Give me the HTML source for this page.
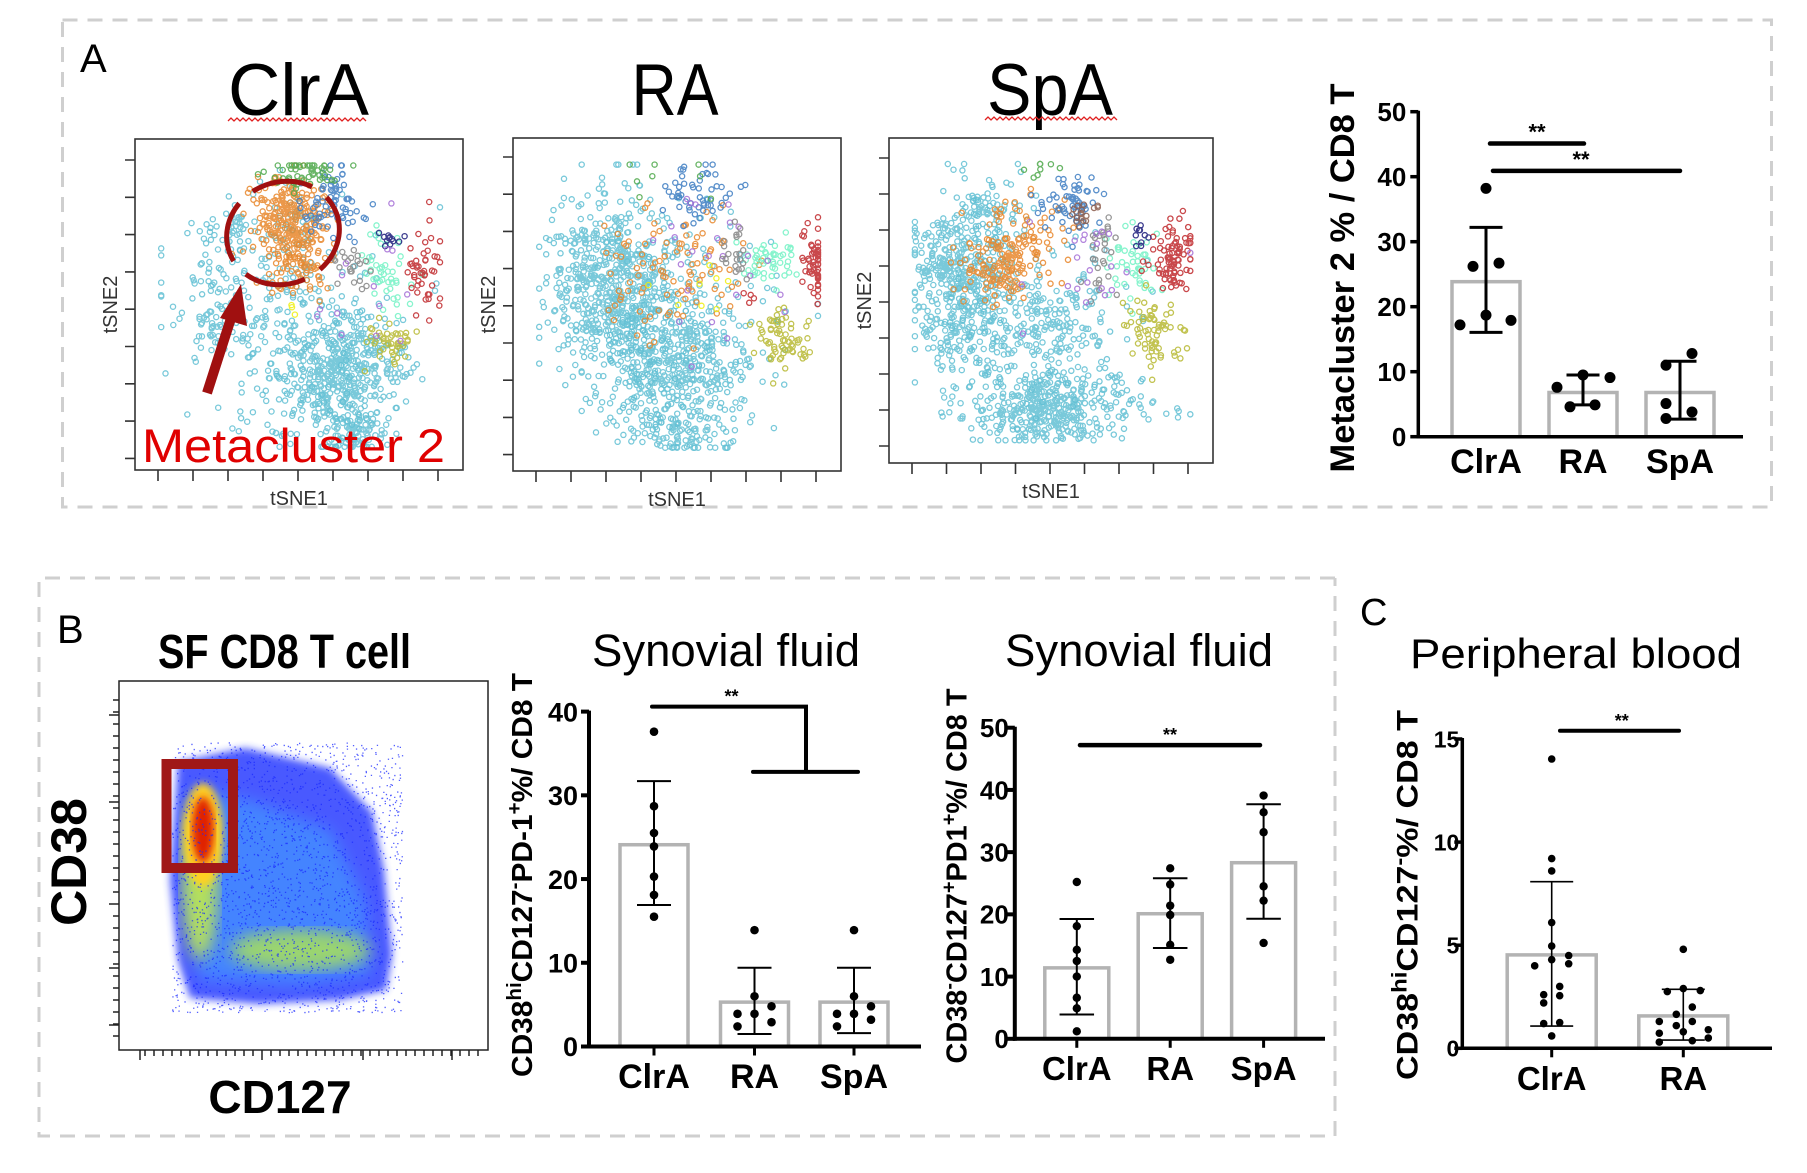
<!DOCTYPE html>
<html><head><meta charset="utf-8">
<style>
html,body{margin:0;padding:0;background:#fff;}
svg{display:block;font-family:"Liberation Sans",Arial,sans-serif;}
</style></head>
<body>
<svg id="fig" width="1807" height="1173" viewBox="0 0 1807 1173" xmlns="http://www.w3.org/2000/svg">
  <defs>
    <filter id="blur3"><feGaussianBlur stdDeviation="4"/></filter>
    <filter id="blur6"><feGaussianBlur stdDeviation="8"/></filter>
  </defs>
  <rect x="62.5" y="20" width="1709" height="487" fill="none" stroke="#cfcfcf" stroke-width="3" stroke-dasharray="15 10"/>
  <path d="M1335 578 L39 578 L39 1136 L1335 1136 L1335 578" fill="none" stroke="#cfcfcf" stroke-width="3" stroke-dasharray="15 10"/>

  <text x="80" y="72" font-size="40">A</text>
  <text x="57" y="643" font-size="40">B</text>
  <text x="1360" y="625" font-size="38">C</text>

  <text x="298.5" y="115" font-size="73" text-anchor="middle" textLength="141" lengthAdjust="spacingAndGlyphs">ClrA</text>
  <text x="675" y="115" font-size="73" text-anchor="middle" textLength="87" lengthAdjust="spacingAndGlyphs">RA</text>
  <text x="1050" y="115" font-size="73" text-anchor="middle" textLength="126" lengthAdjust="spacingAndGlyphs">SpA</text>
  <path d="M228 121 l3 -3 l3 3 l3 -3 l3 3 l3 -3 l3 3 l3 -3 l3 3 l3 -3 l3 3 l3 -3 l3 3 l3 -3 l3 3 l3 -3 l3 3 l3 -3 l3 3 l3 -3 l3 3 l3 -3 l3 3 l3 -3 l3 3 l3 -3 l3 3 l3 -3 l3 3 l3 -3 l3 3 l3 -3 l3 3 l3 -3 l3 3 l3 -3 l3 3 l3 -3 l3 3 l3 -3 l3 3 l3 -3 l3 3 l3 -3 l3 3 l3 -3 l3 3" fill="none" stroke="#e02020" stroke-width="1.3"/>
  <path d="M985 120 l3 -3 l3 3 l3 -3 l3 3 l3 -3 l3 3 l3 -3 l3 3 l3 -3 l3 3 l3 -3 l3 3 l3 -3 l3 3 l3 -3 l3 3 l3 -3 l3 3 l3 -3 l3 3 l3 -3 l3 3 l3 -3 l3 3 l3 -3 l3 3 l3 -3 l3 3 l3 -3 l3 3 l3 -3 l3 3 l3 -3 l3 3 l3 -3 l3 3 l3 -3 l3 3 l3 -3 l3 3 l3 -3 l3 3 l3 -3 l3 3" fill="none" stroke="#e02020" stroke-width="1.3"/>

  <g id="tsne-layer"></g>

  <ellipse cx="283" cy="233" rx="57" ry="51" fill="none" stroke="#a01010" stroke-width="5" stroke-dasharray="62 18" transform="rotate(-20 283 233)"/>
  <line x1="207" y1="393" x2="233" y2="312" stroke="#a01010" stroke-width="10"/>
  <polygon points="241,284 220,318 247,326" fill="#a01010"/>
  <text x="142" y="462" font-size="47" fill="#e00000" textLength="303" lengthAdjust="spacingAndGlyphs">Metacluster 2</text>

  <text x="284.5" y="668" font-size="48" font-weight="bold" text-anchor="middle" textLength="253" lengthAdjust="spacingAndGlyphs">SF CD8 T cell</text>
  <g id="flow-layer"></g>
  <rect x="119" y="681" width="369" height="369" fill="none" stroke="#222" stroke-width="1.5"/>
  <rect x="166.5" y="764" width="66.5" height="104" fill="none" stroke="#a01818" stroke-width="10"/>
  <text transform="translate(86 862) rotate(-90)" font-size="50" font-weight="bold" text-anchor="middle">CD38</text>
  <text x="280" y="1113" font-size="46" font-weight="bold" text-anchor="middle">CD127</text>

  <text x="726" y="666" font-size="45" text-anchor="middle" textLength="268" lengthAdjust="spacingAndGlyphs">Synovial fluid</text>
  <text x="1139" y="666" font-size="45" text-anchor="middle" textLength="268" lengthAdjust="spacingAndGlyphs">Synovial fluid</text>
  <text x="1576" y="668" font-size="42" text-anchor="middle" textLength="332" lengthAdjust="spacingAndGlyphs">Peripheral blood</text>

  <text transform="translate(1342 278) rotate(-90)" y="12" font-size="34.5" font-weight="bold" text-anchor="middle" textLength="389" lengthAdjust="spacingAndGlyphs">Metacluster 2 % / CD8 T</text>
  <text transform="translate(521 875) rotate(-90)" y="11" font-size="29" font-weight="bold" text-anchor="middle" textLength="404" lengthAdjust="spacingAndGlyphs">CD38<tspan font-size="20" dy="-11">hi</tspan><tspan dy="11">CD127</tspan><tspan font-size="20" dy="-11">-</tspan><tspan dy="11">PD-1</tspan><tspan font-size="20" dy="-11">+</tspan><tspan dy="11">%/ CD8 T</tspan></text>
  <text transform="translate(955.5 876) rotate(-90)" y="11" font-size="29" font-weight="bold" text-anchor="middle" textLength="375" lengthAdjust="spacingAndGlyphs">CD38<tspan font-size="20" dy="-11">-</tspan><tspan dy="11">CD127</tspan><tspan font-size="20" dy="-11">+</tspan><tspan dy="11">PD1</tspan><tspan font-size="20" dy="-11">+</tspan><tspan dy="11">%/ CD8 T</tspan></text>
  <text transform="translate(1406.7 895) rotate(-90)" y="11" font-size="30" font-weight="bold" text-anchor="middle" textLength="370" lengthAdjust="spacingAndGlyphs">CD38<tspan font-size="21" dy="-11">hi</tspan><tspan dy="11">CD127</tspan><tspan font-size="21" dy="-11">-</tspan><tspan dy="11">%/ CD8 T</tspan></text>

  <g id="charts"></g>
</svg>

<script>
// ---------- Chart A: Metacluster 2 ----------
const aCats = ['ClrA', 'RA', 'SpA'];
const aMeans = [23.85, 6.8, 6.8];
const aErrLo = [16.05, 4.9, 2.7];
const aErrHi = [32.2, 9.5, 11.6];
const aPts = [[38.2, 26.2, 26.7, 18.7, 17.2, 17.9], [7.6, 9.5, 9.1, 4.6, 4.9], [11.0, 12.8, 5.1, 3.8, 2.8]];
const aTicks = [0, 10, 20, 30, 40, 50];
// ---------- Chart B1 ----------
const b1Cats = ['ClrA', 'RA', 'SpA'];
const b1Means = [24.1, 5.3, 5.3];
const b1ErrLo = [16.9, 1.5, 1.6];
const b1ErrHi = [31.7, 9.4, 9.4];
const b1Pts = [[37.6, 28.7, 25.5, 23.9, 20.3, 18.1, 15.5], [13.9, 6.0, 4.8, 3.9, 3.9, 2.4, 2.9], [13.9, 6.0, 4.8, 3.9, 3.9, 2.4, 3.2]];
const b1Ticks = [0, 10, 20, 30, 40];
// ---------- Chart B2 ----------
const b2Cats = ['ClrA', 'RA', 'SpA'];
const b2Means = [11.4, 20.1, 28.3];
const b2ErrLo = [3.9, 14.6, 19.3];
const b2ErrHi = [19.25, 25.8, 37.7];
const b2Pts = [[25.2, 18.1, 14.3, 12.5, 10.0, 6.6, 4.9, 1.2], [27.4, 24.8, 21.4, 19.9, 15.1, 12.7], [39.1, 36.4, 33.2, 24.5, 22.2, 15.4]];
const b2Ticks = [0, 10, 20, 30, 40, 50];
// ---------- Chart C ----------
const cCats = ['ClrA', 'RA'];
const cMeans = [4.53, 1.57];
const cErrLo = [1.08, 0.4];
const cErrHi = [8.08, 2.86];
const cPts = [[14.03, 9.2, 8.6, 6.1, 4.96, 4.0, 4.3, 4.5, 4.1, 3.0, 2.6, 2.55, 2.2, 1.2, 1.25, 0.6],
              [4.8, 2.75, 2.9, 2.8, 2.0, 1.65, 1.3, 1.1, 1.3, 0.73, 0.9, 0.8, 0.5, 0.3, 0.37]];
const cTicks = [0, 5, 10, 15];

const aJit = [[0, -13, 13, 0, -26, 25], [-26, 0, 27, -13, 12], [-14, 12, -14, 12, -14]];
const b1Jit = [[0, 0, 0, 0, 0, 0, 0], [0, 0, 17, -17, 0, -17, 17], [0, 0, 17, -17, 0, -17, 17]];
const b2Jit = [[0, 0, 0, 0, 0, 0, 0, 0], [0, 0, 0, 0, 0, 0], [0, 0, 0, 0, 0, 0]];
const cJit = [[0, 0, 0, 0, 0, -17, 0, 17, 17, 8, -8, 8, -8, -8, 8, 0],
              [0, -16, 0, 17, 9, -7, -24, -7, 9, -24, 25, 0, 25, -24, 9]];

const NS = 'http://www.w3.org/2000/svg';
function mk(parent, tag, attrs) {
  const el = document.createElementNS(NS, tag);
  for (const k in attrs) el.setAttribute(k, attrs[k]);
  parent.appendChild(el);
  return el;
}

function drawChart(p) {
  const g = mk(document.getElementById('charts'), 'g', {});
  
  
  const yMax = p.ticks[p.ticks.length - 1];
  const y = v => p.y0 - (v / yMax) * (p.y0 - p.yTop);
  const xCat = i => p.catX[i];
  p.means.forEach((m, i) => {
    const r = mk(g, 'rect', {x: xCat(i) - p.barW / 2, y: y(m), width: p.barW, height: p.y0 - y(m), fill: 'none', stroke: '#b3b3b3', 'stroke-width': 3.5});
    
    
  });
  p.pts.forEach((arr, i) => {
    arr.forEach((v, j) => {
      const c = mk(g, 'circle', {cx: xCat(i) + p.jit[i][j], cy: y(v), r: p.dotR, fill: '#000'});
      
      
    });
  });
  p.means.forEach((m, i) => {
    const eg = mk(g, 'path', {d: 'M' + xCat(i) + ' ' + y(p.lo[i]) + ' V' + y(p.hi[i]) +
      ' M' + (xCat(i) - p.capW / 2) + ' ' + y(p.hi[i]) + ' h' + p.capW +
      ' M' + (xCat(i) - p.capW / 2) + ' ' + y(p.lo[i]) + ' h' + p.capW, stroke: '#000', 'stroke-width': p.errW, fill: 'none'});
    
    
  });
  const ya = mk(g, 'line', {x1: p.axisX, y1: p.y0 + p.axW / 2, x2: p.axisX, y2: y(yMax) - 1, stroke: '#000', 'stroke-width': p.axW});
  
  
  const xa = mk(g, 'line', {x1: p.axisX - p.axW / 2, y1: p.y0, x2: p.xEnd, y2: p.y0, stroke: '#000', 'stroke-width': p.axW});
  
  
  p.ticks.forEach(t => {
    const tk = mk(g, 'line', {x1: p.axisX - 8, y1: y(t), x2: p.axisX, y2: y(t), stroke: '#000', 'stroke-width': p.axW});
    
    
    const tl = mk(g, 'text', {x: p.axisX - p.tickGap, y: y(t) + p.tickFont * 0.36, 'font-size': p.tickFont, 'font-weight': 'bold', 'text-anchor': 'end'});
    tl.textContent = t;
    
    
  });
  p.cats.forEach((c, i) => {
    if (p.xTicks) {
      const tk = mk(g, 'line', {x1: xCat(i), y1: p.y0, x2: xCat(i), y2: p.y0 + 9, stroke: '#000', 'stroke-width': 3});
      
      
    }
    const cl = mk(g, 'text', {x: xCat(i), y: p.catY, 'font-size': p.catFont, 'font-weight': 'bold', 'text-anchor': 'middle'});
    cl.textContent = c;
    
    
  });
  p.sig.forEach(s => {
    const sl = mk(g, 'path', {d: s.d(y), stroke: '#000', 'stroke-width': p.sigW, fill: 'none', 'stroke-linecap': 'round'});
    
    
    const st = mk(g, 'text', {x: s.tx, y: y(s.ty) - 4, 'font-size': p.starFont, 'font-weight': 'bold', 'text-anchor': 'middle'});
    st.textContent = '**';
    
    
  });
}

drawChart({name: 'chart-a-metacluster2', cats: aCats, means: aMeans, lo: aErrLo, hi: aErrHi, pts: aPts, jit: aJit, ticks: aTicks,
  axisX: 1418.3, y0: 436.7, yTop: 111.7, xEnd: 1743, catX: [1486, 1583, 1680], barW: 68, dotR: 5.5, capW: 33, errW: 3,
  axW: 3.5, tickFont: 26, tickGap: 12, catFont: 34, catY: 473, xTicks: false, sigW: 4.5, starFont: 22,
  sig: [{d: y => 'M1490 ' + y(45.1) + ' H1584', tx: 1537, ty: 45.1},
        {d: y => 'M1493 ' + y(40.9) + ' H1680', tx: 1581, ty: 40.9}]});

drawChart({name: 'chart-b1-synovial', cats: b1Cats, means: b1Means, lo: b1ErrLo, hi: b1ErrHi, pts: b1Pts, jit: b1Jit, ticks: b1Ticks,
  axisX: 589, y0: 1046.5, yTop: 711.6, xEnd: 921, catX: [654, 754.5, 854], barW: 68, dotR: 4.3, capW: 34, errW: 2,
  axW: 4, tickFont: 27, tickGap: 11, catFont: 34, catY: 1088, xTicks: true, sigW: 4, starFont: 18,
  sig: [{d: y => 'M652 ' + y(40.6) + ' H806 V' + y(32.8) + ' M753 ' + y(32.8) + ' H858', tx: 731.5, ty: 40.6}]});

drawChart({name: 'chart-b2-synovial', cats: b2Cats, means: b2Means, lo: b2ErrLo, hi: b2ErrHi, pts: b2Pts, jit: b2Jit, ticks: b2Ticks,
  axisX: 1014.8, y0: 1038.8, yTop: 727.7, xEnd: 1325, catX: [1076.8, 1170.2, 1263.6], barW: 64, dotR: 4.2, capW: 34.5, errW: 2,
  axW: 4, tickFont: 26, tickGap: 6, catFont: 33, catY: 1080, xTicks: true, sigW: 4.5, starFont: 18,
  sig: [{d: y => 'M1080 ' + y(47.2) + ' H1260', tx: 1170, ty: 47.2}]});

drawChart({name: 'chart-c-peripheral', cats: cCats, means: cMeans, lo: cErrLo, hi: cErrHi, pts: cPts, jit: cJit, ticks: cTicks,
  axisX: 1462.3, y0: 1048.3, yTop: 739, xEnd: 1772, catX: [1551.7, 1683.3], barW: 89, dotR: 3.8, capW: 43, errW: 1.6,
  axW: 3.5, tickFont: 23, tickGap: 3, catFont: 33, catY: 1090, xTicks: true, sigW: 4, starFont: 18,
  sig: [{d: y => 'M1560 ' + y(15.4) + ' H1679', tx: 1621.7, ty: 15.4}]});

// ---------- decorative tSNE scatter + flow density (texture) ----------
function rng(seed) { return function () { seed |= 0; seed = seed + 0x6D2B79F5 | 0; let t = Math.imul(seed ^ seed >>> 15, 1 | seed); t = t + Math.imul(t ^ t >>> 7, 61 | t) ^ t; return ((t ^ t >>> 14) >>> 0) / 4294967296; }; }
const R = rng(12345);
function gauss() { let u = R() || 1e-9, v = R(); return Math.sqrt(-2 * Math.log(u)) * Math.cos(2 * Math.PI * v); }

const COL = {cy: '#62bfd3', or: '#e8862a', bl: '#3d7cc2', gr: '#4ea84a', aq: '#72f2c4', rd: '#c0282c', nv: '#1a1a7a', ol: '#b7b833', gy: '#858585', pu: '#a46fd6', br: '#8b5a4a', ye: '#eeee10'};
const tsneClrA = [['cy',0.45,0.55,0.18,0.18,230],['cy',0.62,0.7,0.09,0.09,440],['cy',0.68,0.88,0.05,0.04,90],['cy',0.3,0.28,0.04,0.05,45],['cy',0.25,0.52,0.07,0.09,70],['cy',0.48,0.33,0.03,0.12,50],
  ['or',0.47,0.25,0.06,0.07,260],['or',0.5,0.4,0.06,0.04,60],['bl',0.6,0.2,0.05,0.05,70],['gr',0.52,0.1,0.05,0.03,55],['aq',0.78,0.4,0.04,0.07,45],['rd',0.88,0.4,0.03,0.06,45],
  ['nv',0.77,0.3,0.015,0.015,12],['ol',0.78,0.62,0.04,0.04,45],['gy',0.66,0.38,0.03,0.03,22],['pu',0.72,0.45,0.08,0.1,14],['ye',0.49,0.52,0.01,0.01,3]];
const tsneRA = [['cy',0.3,0.45,0.1,0.14,650],['cy',0.5,0.68,0.11,0.1,420],['cy',0.55,0.55,0.16,0.16,120],['cy',0.5,0.88,0.1,0.03,80],
  ['or',0.5,0.4,0.11,0.09,100],['bl',0.57,0.15,0.06,0.05,55],['aq',0.78,0.37,0.04,0.04,50],['rd',0.92,0.38,0.025,0.05,55],['ol',0.83,0.6,0.04,0.05,65],
  ['pu',0.6,0.35,0.13,0.13,25],['gy',0.68,0.35,0.02,0.04,22],['rd',0.72,0.48,0.01,0.01,4],['ye',0.55,0.5,0.08,0.1,8],['gr',0.45,0.13,0.06,0.03,8]];
const tsneSpA = [['cy',0.2,0.45,0.07,0.13,400],['cy',0.5,0.83,0.14,0.05,380],['cy',0.45,0.58,0.13,0.12,320],['cy',0.32,0.25,0.05,0.07,80],
  ['or',0.35,0.38,0.06,0.06,150],['or',0.45,0.3,0.08,0.08,40],['bl',0.57,0.2,0.05,0.05,60],['br',0.6,0.23,0.02,0.02,18],['aq',0.75,0.4,0.04,0.06,45],
  ['rd',0.88,0.37,0.035,0.05,85],['ol',0.82,0.6,0.05,0.07,70],['gy',0.66,0.36,0.02,0.06,28],['pu',0.65,0.38,0.1,0.1,22],['nv',0.78,0.3,0.02,0.02,10],['gr',0.45,0.08,0.05,0.03,8]];

function drawTsne(name, box, clusters, xTicks, yTicks) {
  const layer = document.getElementById('tsne-layer');
  const g = mk(layer, 'g', {});
  
  
  const w = box.x1 - box.x0, h = box.y1 - box.y0;
  clusters.forEach(c => {
    let d = '';
    for (let i = 0; i < c[5]; i++) {
      let fx = c[1] + gauss() * c[3], fy = c[2] + gauss() * c[4];
      fx = Math.min(0.93, Math.max(0.08, fx)); fy = Math.min(0.93, Math.max(0.08, fy));
      const px = box.x0 + fx * w, py = box.y0 + fy * h;
      d += 'M' + (px - 2.6).toFixed(1) + ' ' + py.toFixed(1) + 'a2.6 2.6 0 1 0 5.2 0a2.6 2.6 0 1 0 -5.2 0';
    }
    const p = mk(g, 'path', {d: d, fill: 'none', stroke: COL[c[0]], 'stroke-width': 1.3, 'stroke-opacity': 0.85});
    
    
  });
  const fr = mk(g, 'rect', {x: box.x0, y: box.y0, width: w, height: h, fill: 'none', stroke: '#333', 'stroke-width': 1.6});
  
  
  let td = '';
  xTicks.forEach(t => { td += 'M' + t + ' ' + box.y1 + ' v11'; });
  yTicks.forEach(t => { td += 'M' + box.x0 + ' ' + t + ' h-10'; });
  const tp = mk(g, 'path', {d: td, stroke: '#333', 'stroke-width': 1.6, fill: 'none'});
  
  
  const xl = mk(g, 'text', {x: (box.x0 + box.x1) / 2, y: box.y1 + 35, 'font-size': 20, fill: '#333', 'text-anchor': 'middle'});
  xl.textContent = 'tSNE1';
  
  
  const yl = mk(g, 'text', {transform: 'translate(' + (box.x0 - 18) + ' ' + ((box.y0 + box.y1) / 2) + ') rotate(-90)', 'font-size': 20, fill: '#333', 'text-anchor': 'middle'});
  yl.textContent = 'tSNE2';
  
  
}
function seq(a, step, n) { const r = []; for (let i = 0; i < n; i++) r.push(a + i * step); return r; }
drawTsne('tsne-clra', {x0: 135, y0: 139, x1: 463, y1: 470}, tsneClrA, seq(158, 35, 9), seq(160, 37.3, 9));
drawTsne('tsne-ra', {x0: 513, y0: 138, x1: 841, y1: 471}, tsneRA, seq(536, 35, 9), seq(157, 37.2, 9));
drawTsne('tsne-spa', {x0: 889, y0: 138, x1: 1213, y1: 463}, tsneSpA, seq(912, 34.5, 9), seq(158, 36, 9));

(function () {
  const f = document.getElementById('flow-layer');
  const blue = mk(f, 'path', {d: 'M178 762 L245 748 L330 768 L372 812 L384 870 L392 955 L386 990 L340 1000 L258 1004 L190 998 L178 960 L170 880 Z', fill: '#2a3cff', opacity: 0.85, filter: 'url(#blur3)'});
  
  
  const cyan = mk(f, 'path', {d: 'M190 790 L250 800 L330 830 L365 900 L370 975 L300 985 L200 980 L186 900 Z', fill: '#3fb0ff', opacity: 0.5, filter: 'url(#blur6)'});
  
  
  const yb = mk(f, 'ellipse', {cx: 200, cy: 880, rx: 18, ry: 80, fill: '#c8f040', opacity: 0.85, filter: 'url(#blur6)'});
  
  
  const gb = mk(f, 'ellipse', {cx: 300, cy: 950, rx: 70, ry: 20, fill: '#b8f040', opacity: 0.75, filter: 'url(#blur6)'});
  
  
  const ob = mk(f, 'ellipse', {cx: 203, cy: 835, rx: 20, ry: 52, fill: '#ffd020', filter: 'url(#blur3)'});
  
  
  const rb = mk(f, 'ellipse', {cx: 203, cy: 830, rx: 11, ry: 33, fill: '#e02000', filter: 'url(#blur3)'});
  
  
  let d = '';
  for (let i = 0; i < 2200; i++) {
    const px = 172 + R() * 230, py = 742 + R() * 270;
    d += 'M' + px.toFixed(1) + ' ' + py.toFixed(1) + 'h1.3v1.3h-1.3z';
  }
  const sp = mk(f, 'path', {d: d, fill: '#1a2aff', opacity: 0.75});
  
  
  let td = '';
  [715, 802, 904, 968, 1025].forEach(t => { td += 'M109 ' + t + ' h10'; });
  for (let t = 700; t < 1040; t += 12) td += 'M113 ' + t + ' h6';
  [140, 262, 363, 452].forEach(t => { td += 'M' + t + ' 1050 v10'; });
  for (let t = 145; t < 480; t += 9) td += 'M' + t + ' 1050 v6';
  const tk = mk(f, 'path', {d: td, stroke: '#222', 'stroke-width': 1.5, fill: 'none'});
  
  
})();
</script>
</body></html>
